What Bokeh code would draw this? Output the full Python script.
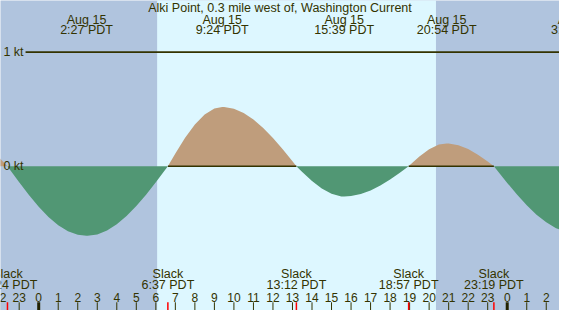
from bokeh.plotting import figure
from bokeh.models import Range1d
from bokeh.core.properties import value
from bokeh.embed import file_html
from bokeh.resources import INLINE

# ---------------- data ----------------
title = "Alki Point, 0.3 mile west of, Washington Current"

# hours relative to midnight, Aug 15 (PDT); current speed in knots (flood +, ebb -)
curve_hours = [-2.0, -1.6, -1.5, -1.0, -0.5, 0.0, 0.5, 1.0, 1.5, 2.0, 2.45,
               2.5, 3.0, 3.5, 4.0, 4.5, 5.0, 5.5, 6.0, 6.5, 6.617,
               7.0, 7.5, 8.0, 8.5, 9.0, 9.4,
               9.5, 10.0, 10.5, 11.0, 11.5, 12.0, 12.5, 13.0, 13.2,
               13.5, 14.0, 14.5, 15.0, 15.5, 15.65,
               16.0, 16.5, 17.0, 17.5, 18.0, 18.5, 18.95,
               19.0, 19.5, 20.0, 20.5, 20.9,
               21.0, 21.5, 22.0, 22.5, 23.0, 23.317,
               23.5, 24.0, 24.5, 25.0, 25.5, 26.0, 26.5, 27.0]
curve_knots = [0.07, 0.0, -0.024, -0.141, -0.252, -0.355, -0.444, -0.516, -0.569, -0.601, -0.61,
               -0.61, -0.597, -0.563, -0.509, -0.437, -0.349, -0.249, -0.141, -0.027, 0.0,
               0.112, 0.249, 0.366, 0.454, 0.507, 0.52,
               0.52, 0.504, 0.467, 0.41, 0.336, 0.247, 0.148, 0.043, 0.0,
               -0.051, -0.13, -0.196, -0.242, -0.264, -0.265,
               -0.261, -0.244, -0.212, -0.169, -0.116, -0.056, 0.0,
               0.008, 0.086, 0.15, 0.19, 0.2,
               0.2, 0.185, 0.151, 0.101, 0.041, 0.0,
               -0.04, -0.146, -0.248, -0.341, -0.424, -0.491, -0.543, -0.576]

max_dates = ["Aug 15", "Aug 15", "Aug 15", "Aug 15", "Aug 16"]
max_times = ["2:27", "9:24", "15:39", "20:54", "3:36"]
max_day = [0, 0, 0, 0, 1]

slack_times = ["22:24", "6:37", "13:12", "18:57", "23:19"]
slack_day = [-1, 0, 0, 0, 0]

sunrise = "6:04"
sunset = "20:21"

tick_hours = list(range(-2, 27))
kt_levels = [1, 0]
kt_labels = ["1 kt", "0 kt"]

# ---------------- helpers ----------------
def to_hours(t, day=0):
    h, m = t.split(":")
    return day * 24 + int(h) + int(m) / 60.0

max_h = [to_hours(t, d) for t, d in zip(max_times, max_day)]
slack_h = [to_hours(t, d) for t, d in zip(slack_times, slack_day)]

X0, X1 = -1.957, 26.678
Y0, Y1 = -1.264, 1.4525
TXT = "#333300"
FONT = value("Liberation Sans")
FS = "12.5px"
LINE_START = -0.673

p = figure(width=559, height=310, x_range=Range1d(X0, X1), y_range=Range1d(Y0, Y1),
           output_backend="svg", toolbar_location=None, min_border=0)
p.axis.visible = False
p.grid.visible = False
p.outline_line_color = None
p.background_fill_color = "#b0c4de"
p.border_fill_color = "#b0c4de"

# daylight band
p.quad(left=[to_hours(sunrise)], right=[to_hours(sunset)], bottom=[Y0 - 1], top=[Y1 + 1],
       fill_color="#ddf7ff", line_color=None)

# 1 kt reference line
p.segment(x0=[LINE_START], x1=[X1 + 1], y0=[kt_levels[0]], y1=[kt_levels[0]],
          line_color=TXT, line_width=1.6)

# fills
flood = [max(v, 0) for v in curve_knots]
ebb = [min(v, 0) for v in curve_knots]
p.varea(x=curve_hours, y1=[0] * len(curve_hours), y2=flood, fill_color="#bf9d7c")
p.varea(x=curve_hours, y1=[0] * len(curve_hours), y2=ebb, fill_color="#519774")

# 0 kt line, visible only beneath the flood areas
fl_x0, fl_x1 = [], []
for i in range(len(slack_h) - 1):
    mid_h = (slack_h[i] + slack_h[i + 1]) / 2
    j = min(range(len(curve_hours)), key=lambda k: abs(curve_hours[k] - mid_h))
    if curve_knots[j] > 0:
        fl_x0.append(max(slack_h[i], LINE_START))
        fl_x1.append(slack_h[i + 1])
p.segment(x0=fl_x0, x1=fl_x1, y0=[0] * len(fl_x0), y1=[0] * len(fl_x0),
          line_color=TXT, line_width=1.6)

# kt labels
p.text(x=[X0 + 0.15] * 2, y=kt_levels, text=kt_labels, text_align="left",
       text_baseline="middle", text_font=FONT, text_font_size=FS, text_color=TXT)

# title
p.text(x=[(X0 + X1) / 2], y=[1.39], text=[title], text_align="center",
       text_baseline="middle", text_font=FONT, text_font_size=FS, text_color=TXT)

# max labels
p.text(x=max_h, y=[1.286] * 5, text=max_dates, text_align="center",
       text_baseline="middle", text_font=FONT, text_font_size=FS, text_color=TXT)
p.text(x=max_h, y=[1.19] * 5, text=[t + " PDT" for t in max_times], text_align="center",
       text_baseline="middle", text_font=FONT, text_font_size=FS, text_color=TXT)

# slack labels
p.text(x=slack_h, y=[-0.94] * 5, text=["Slack"] * 5, text_align="center",
       text_baseline="middle", text_font=FONT, text_font_size=FS, text_color=TXT)
p.text(x=slack_h, y=[-1.04] * 5, text=[t + " PDT" for t in slack_times], text_align="center",
       text_baseline="middle", text_font=FONT, text_font_size=FS, text_color=TXT)

# hour ticks and labels
reg = [h for h in tick_hours if h % 24 != 0]
mid = [h for h in tick_hours if h % 24 == 0]
p.segment(x0=reg, x1=reg, y0=[-1.192] * len(reg), y1=[Y0 - 0.1] * len(reg),
          line_color=TXT, line_width=1)
p.segment(x0=mid, x1=mid, y0=[-1.192] * len(mid), y1=[Y0 - 0.1] * len(mid),
          line_color="#222200", line_width=3)
p.segment(x0=slack_h, x1=slack_h, y0=[-1.192] * 5, y1=[Y0 - 0.1] * 5,
          line_color="red", line_width=1.5)
p.text(x=tick_hours, y=[-1.146] * len(tick_hours), text=[str(h % 24) for h in tick_hours],
       text_align="center", text_baseline="middle", text_font=FONT,
       text_font_size="12px", text_color=TXT)

open("out.html", "w").write(file_html(p, INLINE))
